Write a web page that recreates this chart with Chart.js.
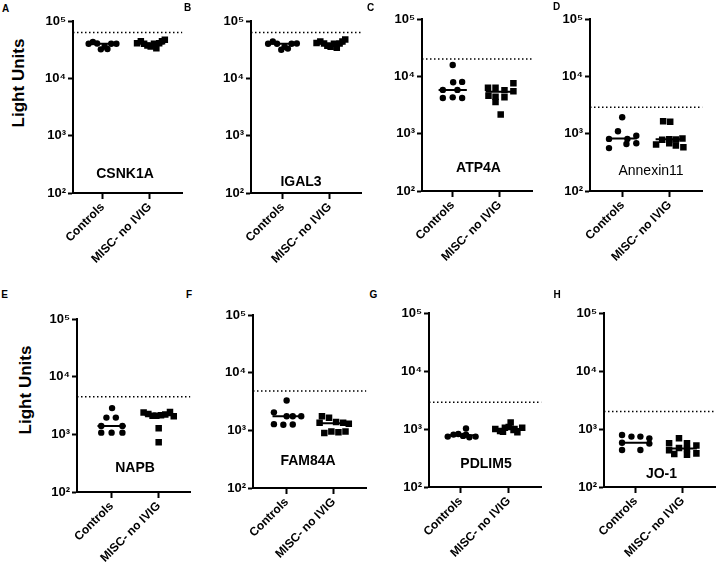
<!DOCTYPE html>
<html>
<head>
<meta charset="utf-8">
<script src="https://cdn.jsdelivr.net/npm/chart.js@4.4.1/dist/chart.umd.min.js"></script>
<style>
  body { margin: 0; background: #fff; }
  #fig { position: relative; width: 720px; height: 571px; overflow: hidden;
         font-family: "Liberation Sans", Arial, sans-serif; color: #000; }
  #fig canvas { position: absolute; }
  .lbl { position: absolute; transform: translate(-50%, -50%); white-space: nowrap;
         font-weight: bold; line-height: 1; }
</style>
</head>
<body>
<div id="fig"></div>
<script>
// ---- data ----
const groups = ["Controls", "MISC- no IVIG"];
const yTickValues = [100, 1000, 10000, 100000];
const yTickLabels = ["10\u00B2", "10\u00B3", "10\u2074", "10\u2075"];
const genes = ["CSNK1A", "IGAL3", "ATP4A", "Annexin11", "NAPB", "FAM84A", "PDLIM5", "JO-1"];
const letters = ["A", "B", "C", "D", "E", "F", "G", "H"];
const cutoffs = [63000, 63000, 20000, 2900, 4500, 4800, 2900, 2000];
const controlMedians = [40000, 40000, 5800, 820, 1400, 1750, 780, 580];
const miscMedians = [40500, 40500, 5400, 800, 2150, 1330, 1000, 460];

// values + horizontal scatter offset (in category units) per point
const csnk1aCtrl = [40000, 43000, 40500, 32000, 36000, 32500, 40000, 40000];
const csnk1aCtrlX = [-0.30, -0.21, -0.12, -0.04, 0.04, 0.10, 0.18, 0.29];
const csnk1aMisc = [41000, 44500, 40000, 37500, 36000, 40000, 33500, 41000, 44500, 47000];
const csnk1aMiscX = [-0.27, -0.19, -0.12, -0.05, 0.02, 0.09, 0.14, 0.20, 0.26, 0.32];

const igal3Ctrl = [40000, 44000, 40000, 31500, 35500, 33000, 40000, 40500];
const igal3CtrlX = [-0.31, -0.21, -0.12, -0.03, 0.04, 0.11, 0.19, 0.30];
const igal3Misc = [41500, 44000, 40500, 37000, 35500, 40000, 34000, 40500, 44000, 47500];
const igal3MiscX = [-0.28, -0.20, -0.12, -0.05, 0.02, 0.09, 0.15, 0.21, 0.27, 0.33];

const atp4aCtrl = [15800, 7900, 8000, 5800, 5800, 4200, 4300, 4200];
const atp4aCtrlX = [0.0, 0.01, 0.20, -0.21, 0.10, -0.21, 0.0, 0.20];
const atp4aMisc = [6300, 6300, 7600, 5700, 5500, 4600, 4400, 4300, 3550, 2150];
const atp4aMiscX = [-0.25, -0.09, 0.29, 0.10, 0.29, -0.24, -0.09, 0.10, -0.09, 0.02];

const anxCtrl = [1930, 1100, 920, 810, 810, 560, 660, 680];
const anxCtrlX = [-0.01, -0.10, 0.29, -0.29, 0.10, -0.29, 0.08, 0.29];
const anxMisc = [1650, 1620, 650, 780, 800, 790, 820, 620, 580, 680];
const anxMiscX = [-0.14, 0.01, -0.29, -0.16, -0.01, 0.13, 0.27, 0.13, 0.29, -0.01];

const napbCtrl = [2850, 1950, 1950, 1400, 1400, 1070, 1070, 1070];
const napbCtrlX = [0.01, -0.11, 0.09, -0.22, 0.23, -0.22, 0.0, 0.23];
const napbMisc = [2400, 2250, 2100, 2100, 2150, 2200, 2450, 2050, 1270, 730];
const napbMiscX = [-0.32, -0.22, -0.13, -0.05, 0.05, 0.14, 0.24, 0.32, 0.0, 0.0];

const famCtrl = [3300, 2050, 1750, 1750, 1750, 1280, 1250, 1260];
const famCtrlX = [0.0, -0.27, 0.0, 0.13, 0.31, -0.27, -0.07, 0.13];
const famMisc = [1750, 1650, 1350, 1400, 1350, 1300, 900, 950, 930, 950];
const famMiscX = [-0.25, -0.10, -0.30, 0.05, 0.20, 0.32, -0.20, -0.05, 0.10, 0.25];

const pdlCtrl = [740, 800, 820, 760, 1020, 720, 740, 800];
const pdlCtrlX = [-0.27, -0.15, -0.05, 0.05, 0.11, 0.18, 0.31, 0.11];
const pdlMisc = [1000, 920, 1050, 1080, 1300, 960, 880, 1050, 900, 1000];
const pdlMiscX = [-0.28, -0.18, -0.08, 0.0, 0.04, 0.10, 0.18, 0.28, -0.12, 0.12];

const jo1Ctrl = [790, 740, 740, 690, 580, 560, 435, 435];
const jo1CtrlX = [-0.29, -0.09, 0.10, 0.29, -0.29, 0.29, -0.29, 0.10];
const jo1Misc = [570, 690, 570, 520, 430, 470, 450, 380, 370, 360];
const jo1MiscX = [-0.29, -0.08, 0.09, 0.29, -0.29, -0.08, 0.09, 0.29, -0.18, 0.09];

const panelData = [
  [csnk1aCtrl, csnk1aCtrlX, csnk1aMisc, csnk1aMiscX],
  [igal3Ctrl, igal3CtrlX, igal3Misc, igal3MiscX],
  [atp4aCtrl, atp4aCtrlX, atp4aMisc, atp4aMiscX],
  [anxCtrl, anxCtrlX, anxMisc, anxMiscX],
  [napbCtrl, napbCtrlX, napbMisc, napbMiscX],
  [famCtrl, famCtrlX, famMisc, famMiscX],
  [pdlCtrl, pdlCtrlX, pdlMisc, pdlMiscX],
  [jo1Ctrl, jo1CtrlX, jo1Misc, jo1MiscX],
];

// ---- layout (pixels): axis left, axis right, top (1e5), bottom (1e2), tick x of each group ----
const layout = [
  [73, 187, 21, 193, 104, 153],
  [251, 366, 21, 193, 284, 333],
  [422, 537, 19, 191, 454, 503],
  [590, 707, 19, 191, 624, 673],
  [77, 195, 319, 492, 113, 162],
  [253, 371, 315, 488, 288, 337],
  [429, 546, 313, 487, 462, 512],
  [604, 720, 313, 487, 637, 686],
];
// label positions (centres)
const letterPos = [[5.5, 9], [187.5, 7.5], [370.5, 7.5], [556.5, 7], [4.5, 294.5], [189, 295], [373.5, 295], [557, 295]];
const genePos = [[125, 173], [301, 181], [478.5, 166.5], [651, 170], [135, 466.5], [308, 460], [486, 463], [661.5, 472.5]];
const yTitlePos = [[18, 83], [25, 390]];

const Y_AXIS_W = 40, TOP_PAD = 10, X_AXIS_H = 80;
const fig = document.getElementById("fig");

function addLabel(text, x, y, size, extra) {
  const d = document.createElement("div");
  d.className = "lbl";
  d.textContent = text;
  d.style.left = x + "px";
  d.style.top = y + "px";
  d.style.fontSize = size + "px";
  if (extra) Object.assign(d.style, extra);
  fig.appendChild(d);
}

const axisFont = { family: "'Liberation Sans', Arial, sans-serif", weight: "bold" };

layout.forEach(([L, R, T, B, x0, x1], i) => {
  const unit = x1 - x0;
  const xMin = -(x0 - L) / unit;
  const xMax = 1 + (R - x1) / unit;
  const w = R - L + Y_AXIS_W;
  const h = B - T + TOP_PAD + X_AXIS_H;

  const canvas = document.createElement("canvas");
  canvas.width = w;
  canvas.height = h;
  canvas.style.left = L - Y_AXIS_W + "px";
  canvas.style.top = T - TOP_PAD + "px";
  canvas.style.width = w + "px";
  canvas.style.height = h + "px";
  fig.appendChild(canvas);

  const [ctrl, ctrlX, misc, miscX] = panelData[i];
  const lineStyle = { showLine: true, borderColor: "#000", borderWidth: 2, pointRadius: 0, fill: false };

  new Chart(canvas, {
    type: "scatter",
    data: {
      datasets: [
        {
          data: ctrl.map((v, k) => ({ x: ctrlX[k], y: v })),
          pointStyle: "circle",
          pointRadius: 3.2,
          backgroundColor: "#000",
          borderWidth: 0,
        },
        {
          data: misc.map((v, k) => ({ x: 1 + miscX[k], y: v })),
          pointStyle: "rect",
          pointRadius: 4.6,
          backgroundColor: "#000",
          borderWidth: 0,
        },
        { ...lineStyle, data: [{ x: -0.3, y: controlMedians[i] }, { x: 0.3, y: controlMedians[i] }] },
        { ...lineStyle, data: [{ x: 0.7, y: miscMedians[i] }, { x: 1.3, y: miscMedians[i] }] },
        {
          ...lineStyle,
          borderWidth: 1.5,
          borderDash: [1.5, 2.5],
          data: [{ x: xMin, y: cutoffs[i] }, { x: xMax, y: cutoffs[i] }],
        },
      ],
    },
    options: {
      responsive: false,
      animation: false,
      layout: { padding: { top: TOP_PAD, left: 0, right: 0, bottom: 0 } },
      plugins: { legend: { display: false }, tooltip: { enabled: false } },
      scales: {
        x: {
          type: "linear",
          min: xMin,
          max: xMax,
          afterBuildTicks: (s) => { s.ticks = [{ value: 0 }, { value: 1 }]; },
          afterFit: (s) => { s.height = X_AXIS_H; },
          ticks: {
            callback: (v, idx) => groups[idx],
            color: "#000",
            font: { ...axisFont, size: 12 },
            minRotation: 45,
            maxRotation: 45,
            padding: 1,
          },
          grid: { drawOnChartArea: false, drawTicks: true, tickLength: 6, tickColor: "#000", tickWidth: 2 },
          border: { display: true, color: "#000", width: 2 },
        },
        y: {
          type: "logarithmic",
          min: 100,
          max: 100000,
          afterBuildTicks: (s) => { s.ticks = yTickValues.map((v) => ({ value: v })); },
          afterFit: (s) => { s.width = Y_AXIS_W; },
          ticks: {
            callback: (v, idx) => yTickLabels[idx],
            color: "#000",
            font: { ...axisFont, size: 13 },
            padding: 2,
          },
          grid: { drawOnChartArea: false, drawTicks: true, tickLength: 5, tickColor: "#000", tickWidth: 2 },
          border: { display: true, color: "#000", width: 2 },
        },
      },
    },
  });

  addLabel(letters[i], letterPos[i][0], letterPos[i][1], 10);
  addLabel(genes[i], genePos[i][0], genePos[i][1], 14,
    genes[i] === "Annexin11" ? { fontWeight: "normal" } : null);
});

yTitlePos.forEach(([x, y]) => {
  addLabel("Light Units", x, y, 17, { transform: "translate(-50%, -50%) rotate(-90deg)" });
});
</script>
</body>
</html>
